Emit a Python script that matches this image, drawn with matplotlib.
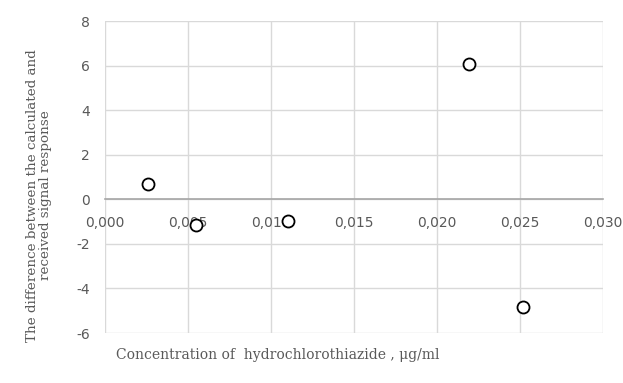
import matplotlib.pyplot as plt
from matplotlib.ticker import FuncFormatter

# Residuals: concentration vs difference in signal response
concentration = [0.0026, 0.0055, 0.0110, 0.0219, 0.0252]
difference = [0.67, -1.17, -0.99, 6.09, -4.83]

x_ticks = [0.000, 0.005, 0.010, 0.015, 0.020, 0.025, 0.030]
y_ticks = [-6, -4, -2, 0, 2, 4, 6, 8]

fig = plt.figure(figsize=(6.23, 3.83), dpi=100)
ax = fig.add_axes([0.1685, 0.1305, 0.7995, 0.8145])

ax.scatter(concentration, difference, s=75, facecolors='white', edgecolors='black',
           linewidths=1.3, zorder=3)

ax.set_xlim(0, 0.030)
ax.set_ylim(-6, 8)
ax.set_xticks(x_ticks)
ax.set_yticks(y_ticks)
ax.xaxis.set_major_formatter(FuncFormatter(lambda v, p: f"{v:.3f}".replace('.', ',')))
ax.yaxis.set_major_formatter(FuncFormatter(lambda v, p: f"{v:.0f}"))

ax.grid(True, color='#d9d9d9', linewidth=1.0)
ax.set_axisbelow(True)
for s in ['top', 'right', 'left']:
    ax.spines[s].set_visible(False)
ax.spines['bottom'].set_position(('data', 0))
ax.spines['bottom'].set_color('#a6a6a6')
ax.spines['bottom'].set_linewidth(1.2)
ax.spines['bottom'].set_zorder(2)

ax.tick_params(axis='x', length=0, pad=12, labelsize=10, labelcolor='#595959')
ax.tick_params(axis='y', length=0, pad=11, labelsize=10, labelcolor='#595959')

fig.text(0.063, 0.49, 'The difference between the calculated and\nreceived signal response',
         rotation=90, ha='center', va='center', family='DejaVu Serif',
         fontsize=9.7, color='#595959', linespacing=1.05)
fig.text(0.446, 0.073, 'Concentration of  hydrochlorothiazide , μg/ml',
         ha='center', va='center', family='DejaVu Serif', fontsize=10, color='#595959')

fig.savefig('out.png', dpi=100)
